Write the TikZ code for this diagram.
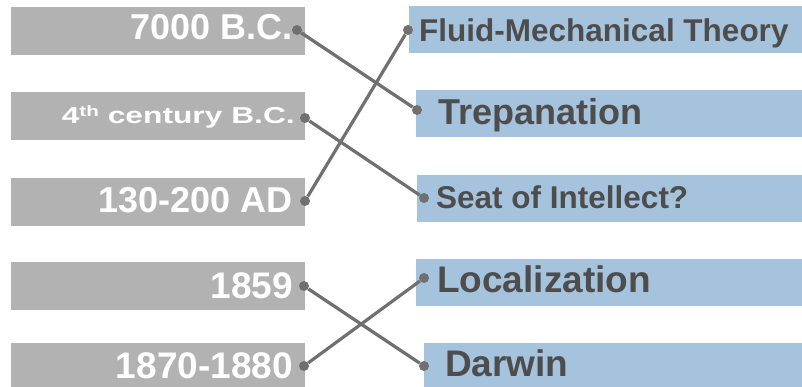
\documentclass[tikz,border=0pt]{standalone}
\usepackage{fontspec}
\setmainfont{Liberation Sans}
\usepackage{tikz}
\usepackage{xcolor}
\usetikzlibrary{positioning}
\definecolor{boxgray}{HTML}{B2B2B2}
\definecolor{boxblue}{HTML}{A5C3DC}
\definecolor{linegray}{HTML}{707070}
\definecolor{textgray}{HTML}{4D4D4D}
\tikzset{%
  datebox/.style={rectangle,fill=boxgray,minimum width=294pt,minimum height=48pt,anchor=west,inner sep=0pt},
  topicbox/.style={rectangle,fill=boxblue,minimum width=400pt,minimum height=47pt,anchor=north west,inner sep=0pt},
  datetext/.style={anchor=base east,inner sep=0pt,text=white,font=\bfseries\fontsize{#1}{#1}\selectfont},
  topictext/.style={anchor=base west,inner sep=0pt,text=textgray,font=\bfseries\fontsize{#1}{#1}\selectfont},
  dot/.style={circle,fill=linegray,inner sep=0pt,minimum size=10pt},
  link/.style={draw=linegray,line width=3.2pt},
}

\begin{document}
\begin{tikzpicture}[x=1pt,y=-1pt]
      \useasboundingbox (0,0) rectangle (802,386);

      \node[datebox] (box_7000) at (11,31) {};
      \node[datebox] (box_4th) at (11,116) {};
      \node[datebox] (box_130) at (11,202) {};
      \node[datebox] (box_1859) at (11,286) {};
      \node[datebox] (box_1870) at (11,367) {};

      \node[topicbox] (box_fluid) at (409,6) {};
      \node[topicbox] (box_trep) at (416,90) {};
      \node[topicbox] (box_seat) at (417,175) {};
      \node[topicbox] (box_loc) at (416,259) {};
      \node[topicbox] (box_darwin) at (424,343) {};

      \node[datetext=36] (txt_7000) at (293,39) {7000 B.C.};
      \node[datetext=23] (txt_4th) at (295,123) {\scalebox{1.38}[1]{4\raisebox{0.3em}{\fontsize{15}{15}\selectfont th} century B.C.}};
      \node[datetext=36] (txt_130) at (293,212) {130-200 AD};
      \node[datetext=37] (txt_1859) at (293,298) {1859};
      \node[datetext=37] (txt_1870) at (293,378) {1870-1880};

      \node[topictext=31.5] (txt_fluid) at (419,41) {Fluid-Mechanical Theory};
      \node[topictext=36] (txt_trep) at (438,124) {Trepanation};
      \node[topictext=31.5] (txt_seat) at (436,208) {Seat of Intellect?};
      \node[topictext=37] (txt_loc) at (437,292) {Localization};
      \node[topictext=37] (txt_darwin) at (445,376) {Darwin};

      \node[dot] (dot_7000) at (297,30) {};
      \node[dot] (dot_4th) at (305,118) {};
      \node[dot] (dot_130) at (305,201) {};
      \node[dot] (dot_1859) at (304,286) {};
      \node[dot] (dot_1870) at (304,366) {};

      \node[dot] (dot_fluid) at (408,30) {};
      \node[dot] (dot_trep) at (417,110) {};
      \node[dot] (dot_seat) at (424,198) {};
      \node[dot] (dot_loc) at (424,278) {};
      \node[dot] (dot_darwin) at (424,366) {};

      \draw[link] (dot_7000) -- (dot_trep);
      \draw[link] (dot_4th) -- (dot_seat);
      \draw[link] (dot_130) -- (dot_fluid);
      \draw[link] (dot_1859) -- (dot_darwin);
      \draw[link] (dot_1870) -- (dot_loc);
    \end{tikzpicture}
\end{document}
